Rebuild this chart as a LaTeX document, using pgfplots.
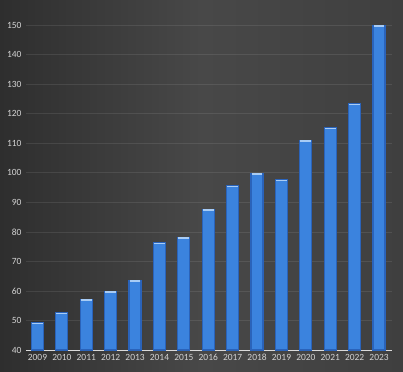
\documentclass[border=0pt]{standalone}
\usepackage{pgfplots}
\pgfplotsset{compat=1.18}
\usepackage{fontspec}
\setmainfont{Carlito}
\definecolor{bgdark}{HTML}{2E2E2E}
\definecolor{bgmid}{HTML}{484848}
\definecolor{bgright}{HTML}{3F3F3F}
\definecolor{barmid}{HTML}{3B83DE}
\definecolor{baredge}{HTML}{2A63BA}
\definecolor{capc}{HTML}{A8CCF5}
\definecolor{txt}{HTML}{D4D4D4}
\pgfplotstableread{
x y
0 49.2
1 52.6
2 57.2
3 59.9
4 63.5
5 76.3
6 78.2
7 87.6
8 95.6
9 99.7
10 97.6
11 111
12 115.2
13 123.3
14 149.8
}\data
\begin{document}
\begin{tikzpicture}
\shade[left color=bgdark, right color=bgright, middle color=bgmid] (0,0) rectangle (403bp,372bp);
\begin{axis}[
  at={(26bp,22bp)}, anchor=south west,
  scale only axis, width=366bp, height=325bp,
  xmin=-0.47, xmax=14.53, ymin=40, ymax=150,
  ytick={40,50,...,150},
  xtick={0,...,14},
  xticklabels={2009,2010,2011,2012,2013,2014,2015,2016,2017,2018,2019,2020,2021,2022,2023},
  axis x line*=bottom, axis y line*=left,
  x axis line style={draw=txt!85, line width=0.8pt, -},
  y axis line style={draw=none},
  ymajorgrids, grid style={draw=white, draw opacity=0.09, line width=0.5pt},
  major tick length=0pt,
  tick label style={font=\fontsize{9.5}{10}\selectfont, text=txt},
  /pgf/number format/assume math mode=true,
  yticklabel style={xshift=-1bp},
  xticklabel style={yshift=-1bp},
  clip=false,
]
\addplot[ybar, bar width=12bp, draw=baredge, line width=1.2pt, fill=barmid]
table[x=x,y=y] {\data};
\addplot[only marks, mark=-, mark size=5.4bp, mark options={draw=capc, line width=1.6pt, yshift=-0.6pt}]
table[x=x,y=y] {\data};
\end{axis}
\end{tikzpicture}
\end{document}
